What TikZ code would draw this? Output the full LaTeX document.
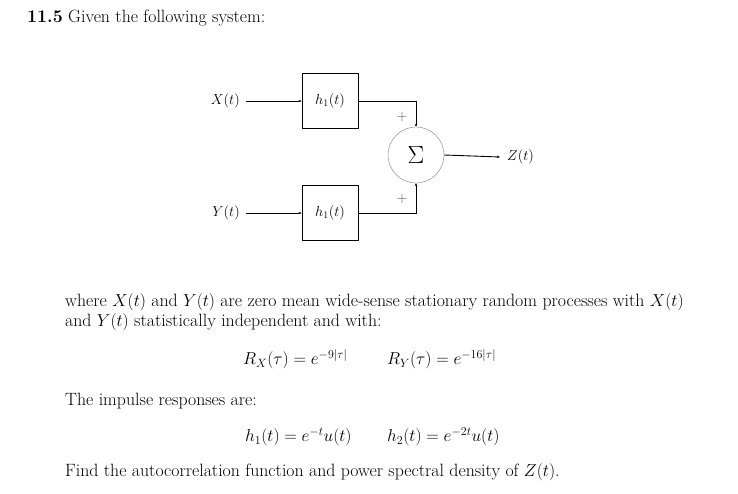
\documentclass[tikz,border=0pt]{standalone}
\usetikzlibrary{arrows.meta}
\begin{document}
\begin{tikzpicture}[x=1pt,y=-1pt,
  font=\fontsize{14}{17}\selectfont,
  blk/.style={draw,line width=0.9pt,minimum width=56pt,minimum height=55pt,inner sep=0pt},
  sig/.style={line width=0.9pt,-{Stealth[length=3pt,width=2.5pt]}},
  txt/.style={anchor=west,inner sep=0pt,font=\fontsize{17.8}{21}\selectfont}]
\useasboundingbox (0,0) rectangle (738,494);
\node[txt] (title) at (27,18) {\textbf{11.5} Given the following system:};
\node[blk] (b1) at (330,101) {$h_1(t)$};
\node[blk] (b2) at (330,213) {$h_1(t)$};
\node[draw=gray,circle,minimum size=56pt,inner sep=0pt,font=\fontsize{30}{34}\selectfont] (s) at (416,155) {$\Sigma$};
\node[anchor=east,inner sep=0pt] (x) at (240,101) {$X(t)$};
\node[anchor=east,inner sep=0pt] (y) at (240,213) {$Y(t)$};
\node[anchor=west,inner sep=0pt] (z) at (507,157) {$Z(t)$};
\coordinate (zin) at (500,157);
\draw[sig] (x.east)++(6,0) -- (b1.west);
\draw[sig,line width=0.6pt] (y.east)++(6,0) -- (b2.west);
\draw[sig] (b1.east) -| (s.north);
\draw[sig,line width=0.6pt] (b2.east) -| (s.south);
\draw[sig] (s.east) -- (zin);
\node[text=gray!70!black] (p1) at (402,117) {$+$};
\node[text=gray!70!black] (p2) at (402,199) {$+$};
\node[txt] (para1) at (65,302) {where $X(t)$ and $Y(t)$ are zero mean wide-sense stationary random processes with $X(t)$};
\node[txt] (para2) at (65,322) {and $Y(t)$ statistically independent and with:};
\node[txt] (rx) at (243,359) {$R_X(\tau)=e^{-9|\tau|}$};
\node[txt] (ry) at (387,359) {$R_Y(\tau)=e^{-16|\tau|}$};
\node[txt] (imp) at (65,401) {The impulse responses are:};
\node[txt] (h1) at (245,437) {$h_1(t)=e^{-t}u(t)$};
\node[txt] (h2) at (387,437) {$h_2(t)=e^{-2t}u(t)$};
\node[txt] (find) at (65,472) {Find the autocorrelation function and power spectral density of $Z(t)$.};
\end{tikzpicture}
\end{document}
